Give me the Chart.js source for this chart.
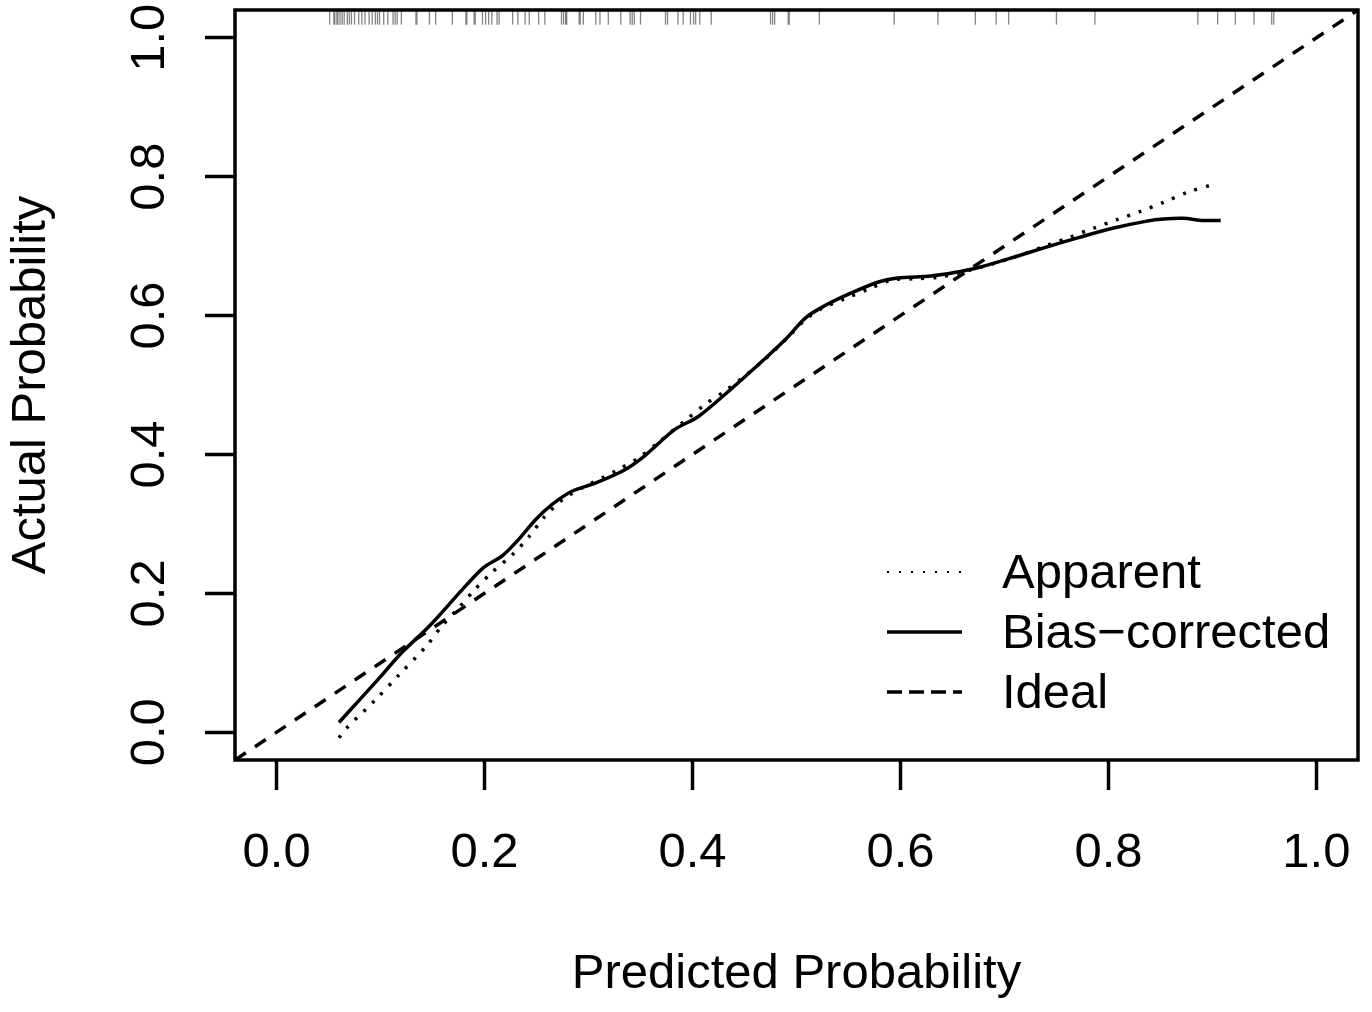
<!DOCTYPE html>
<html>
<head>
<meta charset="utf-8">
<script src="https://cdn.jsdelivr.net/npm/chart.js@4.4.1/dist/chart.umd.min.js"></script>
<style>
html, body { margin: 0; padding: 0; background: #fff; }
</style>
</head>
<body>
<canvas id="calChart" width="1372" height="1012"></canvas>
<script>
// calibration curves (predicted -> actual)
const biasX = [0.060, 0.080, 0.100, 0.120, 0.147, 0.179, 0.199, 0.217, 0.233, 0.249, 0.265, 0.284, 0.307, 0.335, 0.354, 0.383, 0.406, 0.437, 0.469, 0.489, 0.509, 0.527, 0.549, 0.578, 0.597, 0.629, 0.652, 0.677, 0.709, 0.741, 0.773, 0.805, 0.837, 0.853, 0.872, 0.891, 0.908];
const biasY = [0.014, 0.047, 0.080, 0.114, 0.153, 0.206, 0.237, 0.254, 0.278, 0.306, 0.328, 0.347, 0.359, 0.378, 0.398, 0.436, 0.455, 0.494, 0.537, 0.565, 0.597, 0.614, 0.630, 0.648, 0.654, 0.657, 0.662, 0.670, 0.684, 0.699, 0.713, 0.726, 0.736, 0.739, 0.740, 0.737, 0.737];

const apparentX = [0.060, 0.068, 0.094, 0.118, 0.144, 0.159, 0.175, 0.191, 0.207, 0.227, 0.243, 0.257, 0.275, 0.294, 0.326, 0.348, 0.367, 0.394, 0.413, 0.433, 0.452, 0.471, 0.490, 0.509, 0.524, 0.546, 0.569, 0.591, 0.613, 0.636, 0.660, 0.690, 0.719, 0.741, 0.763, 0.786, 0.808, 0.831, 0.853, 0.875, 0.899];
const apparentY = [-0.008, 0.007, 0.045, 0.083, 0.124, 0.153, 0.179, 0.206, 0.230, 0.256, 0.282, 0.309, 0.335, 0.352, 0.376, 0.395, 0.417, 0.450, 0.473, 0.493, 0.515, 0.539, 0.566, 0.595, 0.610, 0.624, 0.638, 0.651, 0.653, 0.655, 0.663, 0.675, 0.689, 0.701, 0.713, 0.726, 0.738, 0.750, 0.763, 0.777, 0.788];

// ideal line y = x over the whole axis range
const idealRange = [-0.04, 1.04];

// rug of predicted probabilities along the top
const rugPred = [0.051, 0.055, 0.056, 0.058, 0.059, 0.061, 0.063, 0.065, 0.068, 0.070, 0.072, 0.075, 0.079, 0.082, 0.085, 0.089, 0.092, 0.095, 0.097, 0.099, 0.103, 0.107, 0.112, 0.114, 0.116, 0.120, 0.134, 0.135, 0.147, 0.153, 0.169, 0.182, 0.183, 0.190, 0.191, 0.198, 0.201, 0.204, 0.207, 0.212, 0.214,
  0.227, 0.232, 0.239, 0.243, 0.252, 0.258, 0.274, 0.276, 0.278, 0.279, 0.291, 0.292, 0.295, 0.307, 0.311, 0.319, 0.331, 0.340, 0.342, 0.344, 0.350, 0.374, 0.376, 0.386, 0.391, 0.398, 0.401, 0.403, 0.407,
  0.418, 0.475, 0.477, 0.479, 0.492, 0.493, 0.522, 0.594, 0.636, 0.672, 0.692, 0.704, 0.750, 0.787, 0.886, 0.905, 0.922, 0.940, 0.957, 0.959];

const tickValues = [0.0, 0.2, 0.4, 0.6, 0.8, 1.0];
const legendLabels = ['Apparent', 'Bias\u2212corrected', 'Ideal'];

const FONT = 'Liberation Sans, Arial, sans-serif';
const axisMin = -0.04;
const axisMax = 1.04;

function pairs(xs, ys) {
    return xs.map((x, i) => ({ x: x, y: ys[i] }));
}

// no extra room for overhanging tick labels, the box is fixed
function noPad(s) {
    s.paddingTop = 0;
    s.paddingBottom = 0;
    s.paddingLeft = 0;
    s.paddingRight = 0;
}

// box around the plot + legend in the bottom right, R style
const rStyle = {
    id: 'rStyle',
    afterDraw(chart) {
        const ctx = chart.ctx;
        const a = chart.chartArea;
        ctx.save();
        ctx.strokeStyle = '#000';
        ctx.lineWidth = 3.5;
        ctx.strokeRect(a.left, a.top, a.right - a.left, a.bottom - a.top);

        const dashes = [[2, 10], [], [15, 7]];
        const widths = [2, 3.5, 3.5];
        const x0 = a.right - 471;
        const x1 = a.right - 396;
        const tx = a.right - 356;
        ctx.font = '49px ' + FONT;
        ctx.fillStyle = '#000';
        ctx.textBaseline = 'middle';
        legendLabels.forEach((lab, i) => {
            const y = a.bottom - 188 + i * 60;
            ctx.beginPath();
            ctx.setLineDash(dashes[i]);
            ctx.lineWidth = widths[i];
            ctx.moveTo(x0, y);
            ctx.lineTo(x1, y);
            ctx.stroke();
            ctx.setLineDash([]);
            ctx.fillText(lab, tx, y + 2);
        });
        ctx.restore();
    }
};

const ctx = document.getElementById('calChart').getContext('2d');
const chart = new Chart(ctx, {
    type: 'scatter',
    data: {
        datasets: [
            {
                label: 'Ideal',
                data: idealRange.map(v => ({ x: v, y: v })),
                showLine: true,
                borderColor: '#000',
                borderWidth: 3.5,
                borderDash: [13, 11],
                pointRadius: 0
            },
            {
                label: 'Apparent',
                data: pairs(apparentX, apparentY),
                showLine: true,
                borderColor: '#000',
                borderWidth: 3.5,
                borderDash: [3, 9],
                tension: 0.3,
                pointRadius: 0
            },
            {
                label: 'Bias-corrected',
                data: pairs(biasX, biasY),
                showLine: true,
                borderColor: '#000',
                borderWidth: 3.5,
                tension: 0.3,
                pointRadius: 0
            },
            {
                label: 'rug',
                data: rugPred.map(v => ({ x: v, y: axisMax - 0.011 })),
                pointStyle: 'line',
                rotation: 90,
                radius: 7,
                borderWidth: 1.3,
                borderColor: 'rgba(80,80,80,0.7)'
            }
        ]
    },
    options: {
        responsive: false,
        animation: false,
        layout: { padding: { top: 10, right: 14, left: 0, bottom: 0 } },
        plugins: {
            legend: { display: false },
            tooltip: { enabled: false }
        },
        scales: {
            x: {
                type: 'linear',
                min: axisMin,
                max: axisMax,
                afterBuildTicks: s => { s.ticks = tickValues.map(v => ({ value: v })); },
                afterFit: s => { s.height = 252; noPad(s); },
                border: { display: false },
                grid: { drawOnChartArea: false, tickLength: 30, tickWidth: 3.5, tickColor: '#000' },
                ticks: {
                    color: '#000',
                    font: { family: FONT, size: 49 },
                    padding: 34,
                    maxRotation: 0,
                    callback: v => v.toFixed(1)
                },
                title: {
                    display: true,
                    text: 'Predicted Probability',
                    color: '#000',
                    font: { family: FONT, size: 49 },
                    padding: { top: 0, bottom: 8 }
                }
            },
            y: {
                type: 'linear',
                min: axisMin,
                max: axisMax,
                afterBuildTicks: s => { s.ticks = tickValues.map(v => ({ value: v })); },
                afterFit: s => { s.width = 235; noPad(s); },
                border: { display: false },
                grid: { drawOnChartArea: false, tickLength: 30, tickWidth: 3.5, tickColor: '#000' },
                ticks: {
                    color: '#000',
                    font: { family: FONT, size: 49 },
                    minRotation: 90,
                    maxRotation: 90,
                    crossAlign: 'center',
                    padding: 20,
                    callback: v => v.toFixed(1)
                },
                title: {
                    display: true,
                    text: 'Actual Probability',
                    color: '#000',
                    font: { family: FONT, size: 49 },
                    padding: { top: 2, bottom: 0 }
                }
            }
        }
    },
    plugins: [rStyle]
});
</script>
</body>
</html>
